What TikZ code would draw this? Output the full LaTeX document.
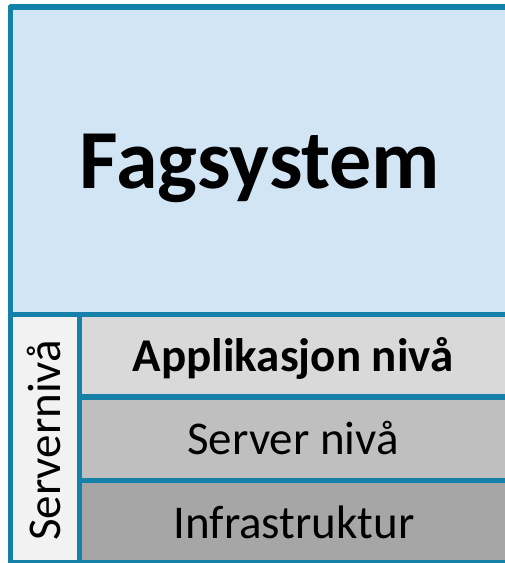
\documentclass[tikz,border=0pt]{standalone}
\usepackage{fontspec}
\setmainfont{Carlito}
\definecolor{bord}{HTML}{1580A8}
\definecolor{topfill}{HTML}{D1E5F4}
\definecolor{sidefill}{HTML}{F2F2F2}
\definecolor{appfill}{HTML}{D9D9D9}
\definecolor{srvfill}{HTML}{BFBFBF}
\definecolor{inffill}{HTML}{A6A6A6}
\begin{document}
\begin{tikzpicture}[x=1pt,y=-1pt,
  box/.style={draw=bord, line width=5.5pt, line join=round, inner sep=0pt, outer sep=0pt},
  lbl/.style={inner sep=0pt, text=black, anchor=base},
  rowtext/.style={font=\fontsize{47}{47}\selectfont}]
\useasboundingbox (0,0) rectangle (505,563);
\clip (0,0) rectangle (505,563);
% boxes (the right edge runs past the picture's edge, as in the reference)
\node[box, fill=topfill, minimum width=519.5pt, minimum height=307.5pt] (fag) at (270.25,160.75) {};
\node[box, fill=sidefill, minimum width=69pt, minimum height=248.5pt] (side) at (45,438.75) {};
\node[box, fill=appfill, minimum width=450.5pt, minimum height=82.5pt] (app) at (304.75,355.75) {};
\node[box, fill=srvfill, minimum width=450.5pt, minimum height=83.5pt] (srv) at (304.75,438.75) {};
\node[box, fill=inffill, minimum width=450.5pt, minimum height=82.5pt] (inf) at (304.75,521.75) {};
% texts
\node[lbl, font=\bfseries\fontsize{84}{84}\selectfont] (fagtxt) at (260,188.5) {Fagsystem};
\node[lbl, rotate=90, rowtext] (sidetxt) at (60.5,440.5) {Servernivå};
\node[lbl, font=\bfseries\fontsize{47}{47}\selectfont] (apptxt) at (293,371) {Applikasjon nivå};
\node[lbl, rowtext] (srvtxt) at (293,454.5) {Server nivå};
\node[lbl, rowtext] (inftxt) at (294,538.5) {Infrastruktur};
\end{tikzpicture}
\end{document}
